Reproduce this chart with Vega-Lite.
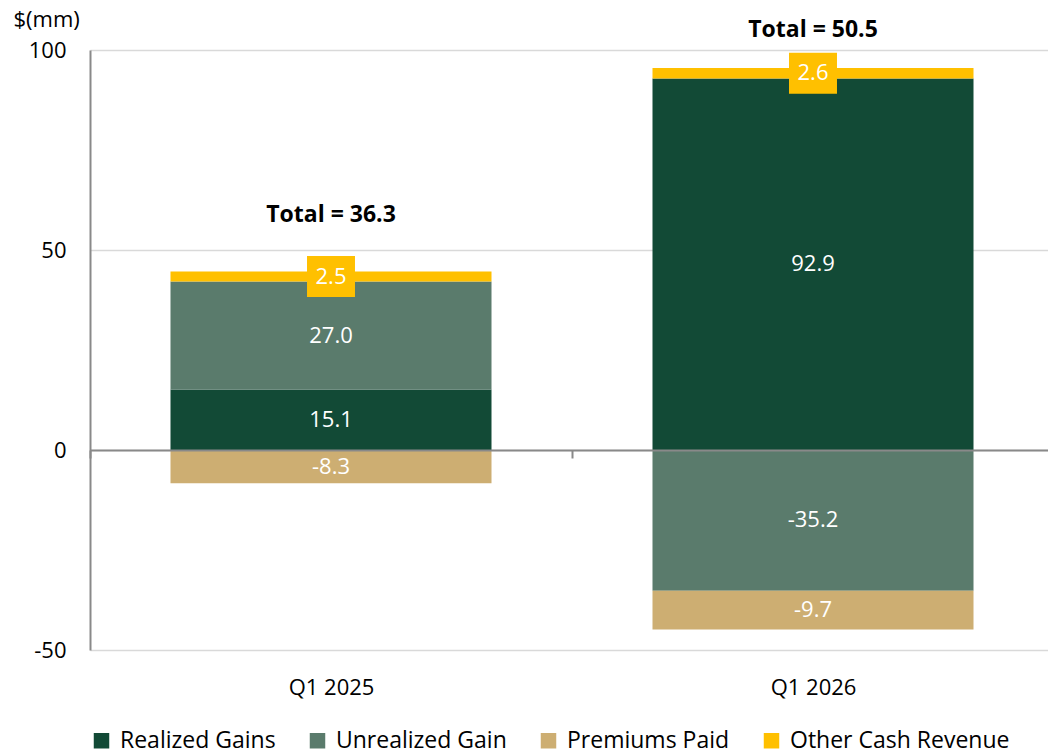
{
  "$schema": "https://vega.github.io/schema/vega-lite/v6.json",
  "width": 958,
  "height": 600,
  "autosize": {"type": "none"},
  "padding": {"left": 90, "top": 50, "right": 0, "bottom": 105},
  "config": {"view": {"stroke": null}, "font": "Open Sans"},
  "datasets": {
    "parts": [
      {"quarter": "Q1 2025", "series": "Realized Gains", "order": 1, "value": 15.1},
      {"quarter": "Q1 2025", "series": "Unrealized Gain", "order": 2, "value": 27.0},
      {"quarter": "Q1 2025", "series": "Premiums Paid", "order": 3, "value": -8.3},
      {"quarter": "Q1 2025", "series": "Other Cash Revenue", "order": 4, "value": 2.5},
      {"quarter": "Q1 2026", "series": "Realized Gains", "order": 1, "value": 92.9},
      {"quarter": "Q1 2026", "series": "Unrealized Gain", "order": 2, "value": -35.2},
      {"quarter": "Q1 2026", "series": "Premiums Paid", "order": 3, "value": -9.7},
      {"quarter": "Q1 2026", "series": "Other Cash Revenue", "order": 4, "value": 2.6}
    ],
    "totals": [
      {"quarter": "Q1 2025", "total": 36.3, "labelY": 58.75},
      {"quarter": "Q1 2026", "total": 50.5, "labelY": 105}
    ]
  },
  "layer": [
    {
      "data": {"name": "parts"},
      "transform": [
        {"stack": "value", "groupby": ["quarter"], "sort": [{"field": "order", "order": "ascending"}], "as": ["v0", "v1"]},
        {"calculate": "(datum.v0 + datum.v1) / 2", "as": "mid"},
        {"calculate": "replace(format(datum.value, '.1f'), '\u2212', '-')", "as": "valueLabel"}
      ],
      "layer": [
        {
          "mark": {"type": "bar", "width": {"band": 0.666}},
          "encoding": {
            "x": {
              "field": "quarter", "type": "nominal", "sort": ["Q1 2025", "Q1 2026"],
              "scale": {"range": [0, 964], "paddingInner": 0, "paddingOuter": 0},
              "axis": {
                "title": null, "orient": "bottom", "offset": -200,
                "domainColor": "#898989", "domainWidth": 2,
                "tickBand": "extent", "tickColor": "#898989", "tickWidth": 2, "tickSize": 8,
                "labelPadding": 219, "labelFontSize": 22, "labelColor": "#000000", "labelAngle": 0,
                "zindex": 1, "grid": false
              }
            },
            "y": {
              "field": "v0", "type": "quantitative",
              "scale": {"domain": [-50, 100], "nice": false},
              "axis": {
                "title": "$(mm)", "titleAngle": 0, "titleAlign": "left", "titleBaseline": "middle",
                "titleX": -77, "titleY": -31, "titleFontSize": 22, "titleFontWeight": "normal", "titleColor": "#000000",
                "values": [-50, 0, 50, 100], "ticks": false, "labelPadding": 24, "labelFontSize": 22, "labelColor": "#000000",
                "labelExpr": "replace(datum.label, '\u2212', '-')",
                "domainColor": "#898989", "domainWidth": 2, "grid": true, "gridColor": "#d9d9d9", "gridWidth": 1.5
              }
            },
            "y2": {"field": "v1"},
            "color": {
              "field": "series", "type": "nominal",
              "scale": {
                "domain": ["Realized Gains", "Unrealized Gain", "Premiums Paid", "Other Cash Revenue"],
                "range": ["#124a36", "#5a7b6c", "#cdae72", "#ffc000"]
              },
              "legend": {
                "title": null, "orient": "bottom", "direction": "horizontal", "padding": 0,
                "symbolType": "square", "symbolSize": 240, "symbolStrokeWidth": 0, "symbolOpacity": 1,
                "labelFontSize": 23, "labelLimit": 500, "labelColor": "#000000", "columnPadding": 30, "offset": 31, "labelOffset": 7
              }
            }
          }
        },
        {
          "transform": [{"filter": "datum.series === 'Other Cash Revenue'"}],
          "mark": {"type": "point", "filled": true, "opacity": 1, "fill": "#ffc000", "strokeWidth": 0,
                   "shape": "M-1.17,-1L1.17,-1L1.17,1L-1.17,1Z", "size": 1681},
          "encoding": {
            "x": {"field": "quarter", "type": "nominal", "sort": ["Q1 2025", "Q1 2026"]},
            "y": {"field": "mid", "type": "quantitative"}
          }
        },
        {
          "mark": {"type": "text", "color": "#ffffff", "fontSize": 22, "baseline": "middle", "align": "center"},
          "encoding": {
            "x": {"field": "quarter", "type": "nominal", "sort": ["Q1 2025", "Q1 2026"]},
            "y": {"field": "mid", "type": "quantitative"},
            "text": {"field": "valueLabel", "type": "nominal"}
          }
        }
      ]
    },
    {
      "data": {"name": "totals"},
      "transform": [{"calculate": "'Total = ' + format(datum.total, '.1f')", "as": "label"}],
      "mark": {"type": "text", "color": "#000000", "fontSize": 23, "fontWeight": "bold", "baseline": "middle", "align": "center"},
      "encoding": {
        "x": {"field": "quarter", "type": "nominal", "sort": ["Q1 2025", "Q1 2026"]},
        "y": {"field": "labelY", "type": "quantitative"},
        "text": {"field": "label", "type": "nominal"}
      }
    }
  ]
}
